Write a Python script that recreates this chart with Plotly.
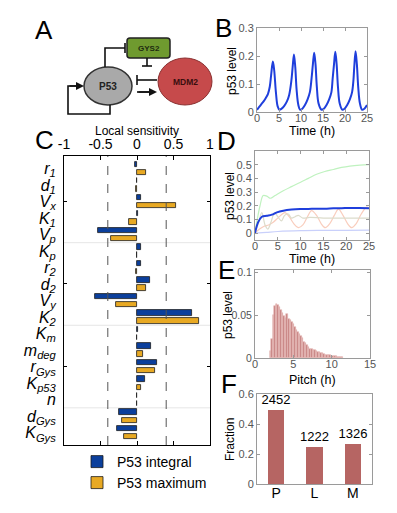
import plotly.graph_objects as go

W, H = 397, 513
OFF = 8  # the page body adds an 8px margin around the figure
FONT = "Liberation Sans, Arial, sans-serif"

# ---- panel B: single cell p53 trace ----
b_time = [0, 0.5, 1, 1.5, 2, 2.5, 2.9, 3.2, 3.6, 3.9, 4.3, 4.7, 5.1,
          5.6, 6.2, 6.8, 7.3, 7.8, 8.1, 8.4, 8.7, 9.0, 9.4, 9.8,
          10.3, 10.9, 11.5, 12.0, 12.4, 12.7, 13.0, 13.3, 13.6, 14.0, 14.7,
          15.2, 15.8, 16.4, 16.9, 17.2, 17.5, 17.8, 18.1, 18.4, 18.8, 19.4,
          19.9, 20.5, 21.1, 21.6, 21.9, 22.1, 22.4, 22.7, 23.0, 23.4, 23.9,
          24.4, 25]
b_p53 = [0.008, 0.018, 0.028, 0.038, 0.05, 0.065, 0.09, 0.13, 0.18, 0.15, 0.07, 0.02, 0.008,
         0.012, 0.022, 0.038, 0.06, 0.11, 0.16, 0.205, 0.16, 0.08, 0.025, 0.008,
         0.012, 0.025, 0.045, 0.07, 0.12, 0.17, 0.212, 0.17, 0.09, 0.03, 0.008,
         0.012, 0.025, 0.045, 0.07, 0.12, 0.17, 0.215, 0.17, 0.09, 0.03, 0.008,
         0.012, 0.025, 0.045, 0.07, 0.11, 0.16, 0.217, 0.17, 0.09, 0.03, 0.008,
         0.012, 0.025]

# ---- panel C: local sensitivity ----
params = ["<i>r<sub>1</sub></i>", "<i>d<sub>1</sub></i>", "<i>V<sub>x</sub></i>", "<i>K<sub>1</sub></i>",
          "<i>V<sub>p</sub></i>", "<i>K<sub>p</sub></i>", "<i>r<sub>2</sub></i>", "<i>d<sub>2</sub></i>",
          "<i>V<sub>y</sub></i>", "<i>K<sub>2</sub></i>", "<i>K<sub>m</sub></i>", "<i>m<sub>deg</sub></i>",
          "<i>r<sub>Gys</sub></i>", "<i>K<sub>p53</sub></i>", "<i>n</i>", "<i>d<sub>Gys</sub></i>",
          "<i>K<sub>Gys</sub></i>"]
sens_integral = [-0.03, 0.0, 0.05, 0.02, -0.53, 0.06, 0.05, 0.18, -0.58, 0.75, 0.01,
                 0.19, 0.27, 0.11, 0.0, -0.25, -0.28]
sens_maximum = [0.12, -0.02, 0.53, -0.11, -0.36, 0.0, -0.02, 0.12, -0.29, 0.85, 0.0,
                0.08, 0.25, 0.055, 0.0, -0.2, -0.18]
sens_threshold = 0.4

# ---- panel D: population traces ----
d_green_t = [0, 0.5, 1.1, 1.8, 2.6, 3.4, 4.4, 6.2, 8, 9.9, 11.7, 13.5, 15.3, 17.2, 19, 20.8, 23, 25]
d_green = [0, 0.1, 0.2, 0.275, 0.27, 0.255, 0.275, 0.31, 0.34, 0.37, 0.4, 0.43, 0.45, 0.465,
           0.48, 0.49, 0.497, 0.5]
d_mean_t = [0, 0.7, 1.5, 2.6, 3.7, 4.8, 6.2, 8, 9.9, 11.7, 13.5, 15.3, 17.2, 19, 20.8, 22.9, 25]
d_mean = [0, 0.08, 0.12, 0.127, 0.135, 0.152, 0.164, 0.172, 0.176, 0.177, 0.179, 0.178,
          0.181, 0.182, 0.184, 0.183, 0.181]
d_low_t = [0, 2.5, 5, 10, 15, 20, 25]
d_low = [0, 0.006, 0.012, 0.018, 0.02, 0.021, 0.022]
d_osc_t = [0, 1, 2, 3, 4, 5, 6, 6.6, 7.5, 8.5, 9.5, 10.5, 11.5, 12.4, 13.5, 14.5, 15.4,
           16.4, 17.4, 18.3, 19.3, 20.3, 21.2, 22.2, 23.3, 24.5, 25]
d_osc = [0, 0.03, 0.05, 0.06, 0.08, 0.11, 0.14, 0.15, 0.12, 0.07, 0.04, 0.06, 0.12, 0.165,
         0.13, 0.07, 0.04, 0.07, 0.13, 0.176, 0.13, 0.07, 0.04, 0.07, 0.14, 0.19, 0.18]
d_damp_t = [0, 0.8, 1.5, 2.2, 2.8, 3.5, 4.3, 5, 5.8, 6.5, 7.3, 8, 8.8, 9.5, 10.5, 12, 15, 20, 25]
d_damp = [0, 0.08, 0.15, 0.06, 0.03, 0.08, 0.15, 0.12, 0.09, 0.13, 0.14, 0.11, 0.12, 0.13,
          0.11, 0.115, 0.11, 0.11, 0.11]

# ---- panel E: pitch distribution ----
pitch_frac = [0.008, 0.022, 0.05, 0.061, 0.063, 0.062, 0.06, 0.056, 0.053, 0.049, 0.047, 0.052,
              0.046, 0.045, 0.042, 0.04, 0.036, 0.033, 0.031, 0.028, 0.026, 0.023, 0.019, 0.017,
              0.015, 0.013, 0.011, 0.01, 0.009, 0.009, 0.008, 0.007, 0.007, 0.006, 0.006, 0.005,
              0.004, 0.004, 0.003, 0.003, 0.002, 0.002, 0.002, 0.002, 0.001, 0.001, 0.001, 0.001]
pitch_start, pitch_bin = 2.0, 0.2
pitch_centers = [round(pitch_start + pitch_bin * i, 2) for i in range(len(pitch_frac))]

# ---- panel F: pattern counts ----
patterns = ["P", "L", "M"]
pattern_counts = [2452, 1222, 1326]
total = sum(pattern_counts)
pattern_frac = [c / total for c in pattern_counts]


def px(x):
    return (x - OFF) / W


def py(y):
    return 1 - (y - OFF) / H


def xd(x0, x1):
    return [px(x0), px(x1)]


def yd(y0, y1):
    return [py(y1), py(y0)]


fig = go.Figure()

# B
fig.add_trace(go.Scatter(x=b_time, y=b_p53, mode="lines", line=dict(color="#1f3fdc", width=2, shape="spline"),
                         xaxis="x", yaxis="y", showlegend=False))

# C
n = len(params)
blue_pos = [2 * i + 1 for i in range(n)]
orange_pos = [2 * i + 2 for i in range(n)]
fig.add_trace(go.Bar(x=sens_integral, y=blue_pos, orientation="h", name="P53 integral", width=0.65,
                     marker=dict(color="#0b3f9c", line=dict(color="#1a1a1a", width=0.8)),
                     xaxis="x2", yaxis="y2", legend="legend"))
fig.add_trace(go.Bar(x=sens_maximum, y=orange_pos, orientation="h", name="P53 maximum", width=0.65,
                     marker=dict(color="#e8a923", line=dict(color="#1a1a1a", width=0.8)),
                     xaxis="x2", yaxis="y2", legend="legend2"))

# D
for tt, vv, col, wd in [(d_green_t, d_green, "#bff2bf", 1.2), (d_osc_t, d_osc, "#f9cdbd", 1.2),
                        (d_damp_t, d_damp, "#dcdccb", 1.2), (d_low_t, d_low, "#c9d0fb", 1.2),
                        (d_mean_t, d_mean, "#1f3fdc", 2)]:
    fig.add_trace(go.Scatter(x=tt, y=vv, mode="lines", line=dict(color=col, width=wd, shape="spline"),
                             xaxis="x3", yaxis="y3", showlegend=False))

# E
fig.add_trace(go.Bar(x=pitch_centers, y=pitch_frac, width=pitch_bin,
                     marker=dict(color="#c88583", line=dict(color="#e7bdbb", width=0.6)),
                     xaxis="x4", yaxis="y4", showlegend=False))

# F
fig.add_trace(go.Bar(x=patterns, y=pattern_frac, width=0.42, text=[str(c) for c in pattern_counts],
                     textposition="outside", constraintext="none",
                     textfont=dict(size=13, color="black", family=FONT),
                     cliponaxis=False, marker=dict(color="#b66563", line=dict(width=0)),
                     xaxis="x5", yaxis="y5", showlegend=False))

gray_ax = dict(showline=True, linecolor="#9a9a9a", linewidth=1, mirror="ticks", ticks="inside",
               ticklen=3, tickcolor="#9a9a9a", showgrid=False, zeroline=False, automargin=False,
               tickfont=dict(size=11, color="#555555", family=FONT))
gray_x = dict(gray_ax, ticklabelstandoff=-4)

leg = dict(xanchor="left", yanchor="middle", bgcolor="rgba(0,0,0,0)", font=dict(size=14))

fig.update_layout(
    width=W, height=H, margin=dict(l=0, r=0, t=0, b=0, autoexpand=False),
    paper_bgcolor="white", plot_bgcolor="white",
    font=dict(family=FONT, color="black"),
    bargap=0,
    xaxis=dict(domain=xd(257, 367), range=[0, 25], tickvals=[0, 5, 10, 15, 20, 25], anchor="y", **gray_x),
    yaxis=dict(domain=yd(28, 112), range=[0, 0.3], tickvals=[0, 0.1, 0.2, 0.3], anchor="x", **gray_ax),
    xaxis2=dict(domain=xd(64, 210), range=[-1, 1], side="top", tickvals=[-1, -0.5, 0, 0.5, 1],
                ticktext=["-1", "-0.5", "0", "0.5", "1"], ticks="inside", ticklen=4, tickcolor="black",
                showline=True, linecolor="black", linewidth=1, mirror="ticks", showgrid=False,
                zeroline=False, automargin=False, tickfont=dict(size=14, color="black"), anchor="y2"),
    yaxis2=dict(domain=yd(156, 445), range=[35, 0], tickvals=[2 * i + 1.5 for i in range(n)],
                ticktext=params, ticks="", showline=True, linecolor="black", linewidth=1, mirror="ticks",
                showgrid=False, zeroline=False, automargin=False, ticklabelstandoff=4,
                minor=dict(tickmode="array", tickvals=[5.5, 15.5, 25.5], ticks="inside", ticklen=3,
                           tickcolor="black", showgrid=False),
                tickfont=dict(size=16, color="black"), anchor="x2"),
    xaxis3=dict(domain=xd(255, 369), range=[0, 25], tickvals=[0, 5, 10, 15, 20, 25], anchor="y3", **gray_x),
    yaxis3=dict(domain=yd(151, 240), range=[-0.05, 0.6], tickvals=[0, 0.1, 0.2, 0.3, 0.4, 0.5],
                anchor="x3", **gray_ax),
    xaxis4=dict(domain=xd(255, 370), range=[0, 15], tickvals=[0, 5, 10, 15], anchor="y4", **gray_x),
    yaxis4=dict(domain=yd(270, 358), range=[0, 0.103], tickvals=[0, 0.05, 0.1], ticktext=["0", "0.05", "0.1"],
                anchor="x4", **{**gray_ax, "tickfont": dict(size=10.5, color="#555555", family=FONT)}),
    xaxis5=dict(domain=xd(257, 372), range=[-0.5, 2.5], anchor="y5",
                **{**gray_x, "ticks": "", "tickfont": dict(size=14, color="black", family=FONT)}),
    yaxis5=dict(domain=yd(394, 484), range=[0, 0.6], tickvals=[0, 0.2, 0.4, 0.6], anchor="x5", **gray_ax),
    legend=dict(x=px(77), y=py(462), **leg),
    legend2=dict(x=px(77), y=py(483), **leg),
)

shapes = []
# C: dashed thresholds and group separators
for v in (-sens_threshold, sens_threshold):
    shapes.append(dict(type="line", xref="x2", yref="y2 domain", x0=v, x1=v, y0=0, y1=1,
                       line=dict(color="#555555", width=1, dash="dash")))
for sep in (10.5, 20.5, 30.5):
    shapes.append(dict(type="line", xref="x2 domain", yref="y2", x0=0, x1=1, y0=sep, y1=sep,
                       line=dict(color="#e6e6e6", width=1), layer="below"))

# A: network diagram
def P(x, y):
    return f"{px(x):.5f},{py(y):.5f}"


def path(points):
    return "M" + " L".join(P(x, y) for x, y in points)


line_k = dict(color="#111111", width=1.6)
gx0, gx1, gy0, gy1, r = 127, 170, 38, 58, 3
shapes.append(dict(type="path", xref="paper", yref="paper",
                   path=(f"M{P(gx0 + r, gy0)} L{P(gx1 - r, gy0)} Q{P(gx1, gy0)} {P(gx1, gy0 + r)} "
                         f"L{P(gx1, gy1 - r)} Q{P(gx1, gy1)} {P(gx1 - r, gy1)} L{P(gx0 + r, gy1)} "
                         f"Q{P(gx0, gy1)} {P(gx0, gy1 - r)} L{P(gx0, gy0 + r)} Q{P(gx0, gy0)} {P(gx0 + r, gy0)} Z"),
                   fillcolor="#6f9a2f", line=dict(color="#222222", width=1.5)))
shapes.append(dict(type="circle", xref="paper", yref="paper", x0=px(84), x1=px(132), y0=py(105), y1=py(67),
                   fillcolor="#a9a9a9", line=dict(color="#333333", width=1.5)))
shapes.append(dict(type="circle", xref="paper", yref="paper", x0=px(158), x1=px(212), y0=py(105), y1=py(58),
                   fillcolor="#c64a4b", line=dict(color="#8a3030", width=1)))
for pts in ([(105, 67), (105, 48), (125, 48)], [(125, 43), (125, 53)],
            [(147, 58), (147, 66)], [(142, 66), (152, 66)],
            [(157, 80), (137, 80)], [(137, 75), (137, 85)],
            [(137, 92), (153, 92)],
            [(110, 105), (110, 114), (68, 114), (68, 86), (80, 86)]):
    shapes.append(dict(type="path", xref="paper", yref="paper", path=path(pts), line=line_k))

ann = []
for (x, y, ax) in [(157, 92, -20), (84, 86, -16)]:
    ann.append(dict(x=px(x), y=py(y), xref="paper", yref="paper", ax=ax, ay=0, text="", showarrow=True,
                    arrowhead=2, arrowsize=1, arrowwidth=1.6, arrowcolor="#111111", standoff=0))
ann += [
    dict(x=px(148.5), y=py(48), text="<b>GYS2</b>", font=dict(size=8, color="#1e2a10")),
    dict(x=px(108), y=py(86), text="<b>P53</b>", font=dict(size=10, color="#222222")),
    dict(x=px(185), y=py(82), text="<b>MDM2</b>", font=dict(size=8.5, color="#3a0e0e")),
]

# panel letters
for lab, x, y in [("A", 44, 30), ("B", 223, 28), ("C", 44, 140), ("D", 227, 141), ("E", 227, 270),
                  ("F", 229, 384)]:
    ann.append(dict(x=px(x), y=py(y), text=lab, font=dict(size=26, color="black")))

# axis titles
ann += [
    dict(x=px(312), y=py(130.5), text="Time (h)", font=dict(size=12.5)),
    dict(x=px(232), y=py(71), text="p53 level", textangle=-90, font=dict(size=12)),
    dict(x=px(137), y=py(131), text="Local sensitivity", font=dict(size=12)),
    dict(x=px(312), y=py(258.5), text="Time (h)", font=dict(size=12.5)),
    dict(x=px(230), y=py(196), text="p53 level", textangle=-90, font=dict(size=12)),
    dict(x=px(312), y=py(379.5), text="Pitch (h)", font=dict(size=12.5)),
    dict(x=px(228), y=py(315), text="p53 level", textangle=-90, font=dict(size=12)),
    dict(x=px(230), y=py(440), text="Fraction", textangle=-90, font=dict(size=12)),
]
for a in ann:
    a.setdefault("xref", "paper")
    a.setdefault("yref", "paper")
    a.setdefault("showarrow", False)
    a.setdefault("xanchor", "center")
    a.setdefault("yanchor", "middle")

fig.update_layout(shapes=shapes, annotations=ann)
fig.write_html("out.html")
